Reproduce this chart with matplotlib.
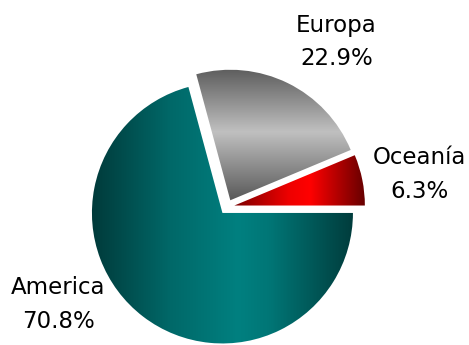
import matplotlib
matplotlib.use("Agg")
import matplotlib.pyplot as plt
import numpy as np
from matplotlib.colors import LinearSegmentedColormap

# Share of the total by region
regions = ["Oceanía", "Europa", "America"]
shares = [6.3, 22.9, 70.8]

# Label anchors (x centre, name baseline, percent baseline) in pixel space, y measured from top
label_pos = {
    "Oceanía": (419, 164, 198),
    "Europa": (336.5, 32, 65),
    "America": (58, 294, 328),
}

W, H = 469, 345
fig = plt.figure(figsize=(W / 100, H / 100), dpi=100)
ax = fig.add_axes([0, 0, 1, 1])

center = (227, H - 207)
radius = 130.5
# pie() applies explode as an absolute offset in data units
explode = [7.5, 7.5, 7.5]

wedges, _ = ax.pie(shares, explode=explode, center=center, radius=radius,
                   startangle=0, counterclock=True,
                   wedgeprops=dict(facecolor="none", edgecolor="none", linewidth=0))

# Gradient fills: (direction, stops)
fills = {
    "Oceanía": ("h", [(0.0, "#7a0000"), (0.42, "#ee0000"), (0.58, "#ff0000"),
                      (1.0, "#640000")]),
    "Europa": ("v", [(0.0, "#5c5c5c"), (0.48, "#c0c0c0"), (1.0, "#585858")]),
    "America": ("h", [(0.0, "#003a3a"), (0.3, "#006868"), (0.56, "#008080"),
                      (0.68, "#007676"), (1.0, "#003c3c")]),
}

for name, w in zip(regions, wedges):
    direction, stops = fills[name]
    cmap = LinearSegmentedColormap.from_list(name, stops)
    bb = w.get_path().get_extents()
    g = np.linspace(0, 1, 512)
    if direction == "h":
        img = g[np.newaxis, :]
    else:
        img = g[:, np.newaxis]
    im = ax.imshow(img, cmap=cmap, vmin=0, vmax=1, origin="upper",
                   extent=(bb.x0 - 1, bb.x1 + 1, bb.y0 - 1, bb.y1 + 1),
                   aspect="auto", interpolation="bilinear", zorder=1)
    im.set_clip_path(w)

for name, v in zip(regions, shares):
    x, y_name, y_pct = label_pos[name]
    ax.text(x, H - y_name, name, ha="center", va="baseline",
            fontsize=16.5, family="DejaVu Sans", color="black")
    ax.text(x, H - y_pct, f"{v:.1f}%", ha="center", va="baseline",
            fontsize=16.5, family="DejaVu Sans", color="black")

ax.set_xlim(0, W)
ax.set_ylim(0, H)
ax.set_aspect("equal")
ax.axis("off")

fig.savefig("out.png", dpi=100, facecolor="white")
